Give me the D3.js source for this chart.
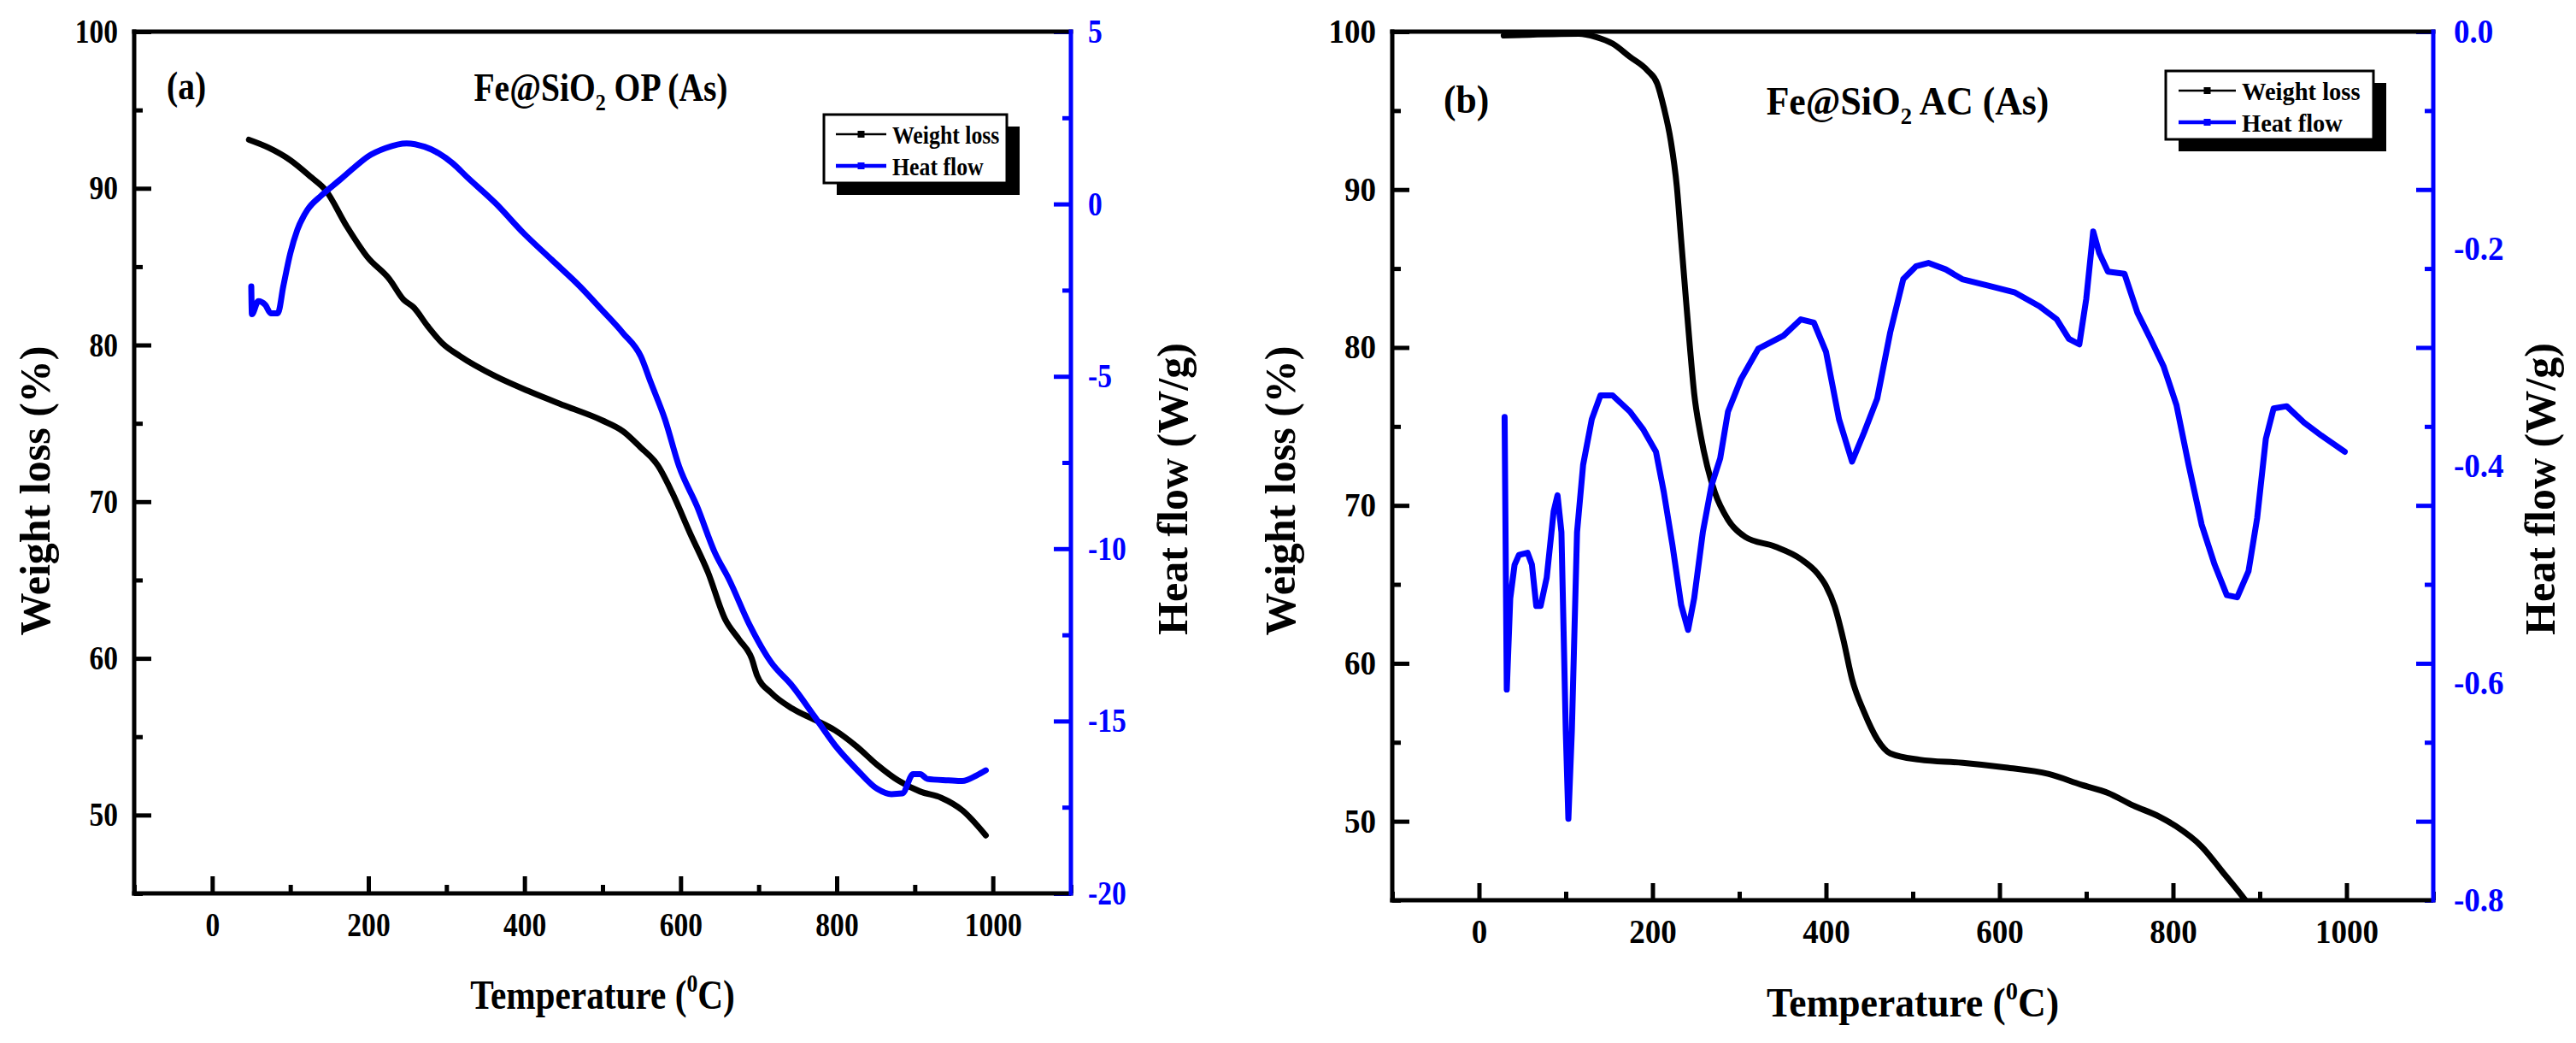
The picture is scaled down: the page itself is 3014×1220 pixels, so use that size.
<!DOCTYPE html>
<html>
<head>
  <meta charset="UTF-8">
  <title>Fe@SiO2 - TGA / heat flow</title>
  <script src="https://cdn.jsdelivr.net/npm/d3@7"></script>
  <style>
    body { margin: 0; background: #fff; }
    svg text { font-family: "Liberation Serif", "Times New Roman", serif; font-weight: bold; }
  </style>
</head>
<body>
<script>
  // ---- values ----
  // panel (a) Fe@SiO2 OP (As)
  var tempWeightA = [47, 72, 100, 127, 145, 172, 199, 227, 245, 258, 276, 295, 317, 363, 408,
                     453, 499, 526, 548, 571, 589, 612, 635, 657, 675, 691, 698, 716, 743, 771,
                     798, 825, 852, 879, 907, 934, 961, 991];
  var weightA = [93.1, 92.6, 91.8, 90.7, 89.9, 87.6, 85.6, 84.2, 82.9, 82.4, 81.2, 80.1, 79.3, 78.0, 77.0,
                 76.1, 75.2, 74.5, 73.5, 72.3, 70.6, 68.0, 65.5, 62.5, 61.2, 60.0, 58.9, 57.8, 56.8, 56.1,
                 55.4, 54.4, 53.2, 52.2, 51.5, 51.1, 50.3, 48.7];
  var tempHeatA = [50, 50.8, 59, 68, 75, 84, 91, 100, 109, 122, 140, 163, 181, 199, 222,
                   249, 272, 290, 308, 326, 363, 399, 435, 471, 499, 526, 549, 562, 580, 598,
                   621, 644, 662, 689, 716, 743, 771, 798, 825, 852, 870, 884, 898, 907, 916,
                   943, 961, 979, 991];
  var heatA = [-2.39, -3.2, -2.82, -2.93, -3.17, -3.17, -2.39, -1.43, -0.75, -0.17, 0.25, 0.69, 1.04, 1.37, 1.62,
               1.76, 1.66, 1.47, 1.18, 0.79, 0.02, -0.85, -1.62, -2.39, -3.07, -3.74, -4.42, -5.19, -6.25, -7.61,
               -8.77, -10.12, -10.89, -12.24, -13.3, -13.98, -14.85, -15.71, -16.39, -16.97, -17.12, -17.1, -16.54, -16.54, -16.68,
               -16.72, -16.74, -16.58, -16.43];

  // panel (b) Fe@SiO2 AC (As)
  var tempWeightB = [28.5, 115, 135, 154, 174, 194, 205.5, 213, 221, 228, 233, 238, 243, 248, 255,
                     263, 272, 287, 307, 341, 371, 390, 400, 410, 420, 430, 444, 459, 474, 508,
                     557.5, 607, 656, 695, 725, 754, 784, 803, 833, 857, 882, 890];
  var weightB = [99.75, 99.87, 99.66, 99.24, 98.4, 97.55, 96.7, 95.2, 93.1, 90.2, 86.8, 83.4, 80.1, 77.1, 74.6,
                 72.5, 70.8, 69.1, 68.0, 67.4, 66.6, 65.7, 64.9, 63.6, 61.5, 59.0, 56.9, 55.2, 54.3, 53.9,
                 53.7, 53.4, 53.0, 52.3, 51.8, 51.0, 50.3, 49.7, 48.4, 46.8, 45.1, 44.5];
  var tempHeatB = [29.5, 32, 36, 41, 46, 56, 61, 66, 71, 78, 86, 90.5, 95, 100, 103,
                   107, 113, 120, 130, 140, 154, 174, 189, 204, 213, 223, 233, 241, 248, 258,
                   268, 278, 287, 302, 322, 351, 371, 386, 400, 415, 430, 444, 459, 474, 489,
                   504, 518, 538, 557, 587, 617, 646, 666, 680, 692, 700, 708, 715, 725, 744,
                   759, 774, 789, 804, 818, 833, 848, 862, 874, 887, 897, 907, 916, 931, 951,
                   971, 998];
  var heatB = [-0.355, -0.606, -0.522, -0.491, -0.482, -0.480, -0.491, -0.529, -0.529, -0.503, -0.442, -0.427, -0.461, -0.644, -0.725,
               -0.644, -0.461, -0.399, -0.357, -0.335, -0.335, -0.350, -0.366, -0.387, -0.424, -0.473, -0.528, -0.551, -0.522, -0.461,
               -0.418, -0.393, -0.350, -0.320, -0.292, -0.280, -0.265, -0.268, -0.295, -0.357, -0.396, -0.369, -0.338, -0.277, -0.228,
               -0.216, -0.213, -0.219, -0.228, -0.234, -0.240, -0.253, -0.265, -0.283, -0.288, -0.246, -0.184, -0.204, -0.221, -0.223,
               -0.259, -0.283, -0.308, -0.344, -0.399, -0.454, -0.491, -0.519, -0.521, -0.497, -0.448, -0.375, -0.347, -0.345, -0.360,
               -0.372, -0.387];

  // ticks
  var xTicks = [0, 200, 400, 600, 800, 1000];
  var xMinorTicks = [-100, 100, 300, 500, 700, 900, 1100];
  var weightTicks = [50, 60, 70, 80, 90, 100];
  var weightMinorTicks = [45, 55, 65, 75, 85, 95];
  var heatTicksA = [-20, -15, -10, -5, 0, 5];
  var heatMinorTicksA = [-17.5, -12.5, -7.5, -2.5, 2.5];
  var heatTicksB = [0, -0.2, -0.4, -0.6, -0.8];

  var BLUE = '#0000ff';

  var svg = d3.select('body').append('svg')
      .attr('width', 3014)
      .attr('height', 1220);
  svg.append('rect').attr('width', 3014).attr('height', 1220).attr('fill', '#fff');

  function addText(x, y, sx, size, anchor, rotate) {
    return svg.append('text')
        .attr('transform', 'translate(' + x + ',' + y + ')' + (rotate ? ' rotate(-90)' : '') +
              ' scale(' + sx + ',1)')
        .attr('text-anchor', anchor)
        .attr('font-size', size);
  }

  function plain(d) { return String(d); }

  function tidy(g, color, sx, textX) {
    g.select('.domain').remove();
    g.attr('font-size', 39).attr('color', color);
    g.selectAll('.tick line').attr('stroke-width', 5);
    g.selectAll('.tick text').attr('transform', 'scale(' + sx + ',1)');
    if (textX !== undefined) g.selectAll('.tick text').attr('x', textX);
  }

  function drawPanel(p) {
    var x = d3.scaleLinear().domain([-100, 1100]).range([p.left, p.right]);
    var yL = d3.scaleLinear().domain([45, 100]).range([p.bottom, p.top]);
    var yR = d3.scaleLinear().domain(p.heatDomain).range([p.bottom, p.top]);

    svg.append('clipPath').attr('id', 'clip' + p.name)
      .append('rect')
        .attr('x', p.left).attr('y', p.top)
        .attr('width', p.right - p.left).attr('height', p.bottom - p.top);

    // curves: weight loss first, heat flow on top
    var weightLine = d3.line().curve(d3.curveMonotoneX)
        .x(function (d) { return x(d[0]); }).y(function (d) { return yL(d[1]); });
    var heatLine = d3.line().curve(p.heatCurve)
        .x(function (d) { return x(d[0]); }).y(function (d) { return yR(d[1]); });
    svg.append('path')
        .datum(d3.zip(p.tempWeight, p.weight))
        .attr('clip-path', 'url(#clip' + p.name + ')')
        .attr('d', weightLine)
        .attr('fill', 'none').attr('stroke', '#000')
        .attr('stroke-width', 7).attr('stroke-linejoin', 'round').attr('stroke-linecap', 'round');
    svg.append('path')
        .datum(d3.zip(p.tempHeat, p.heat))
        .attr('clip-path', 'url(#clip' + p.name + ')')
        .attr('d', heatLine)
        .attr('fill', 'none').attr('stroke', BLUE)
        .attr('stroke-width', 7).attr('stroke-linejoin', 'round').attr('stroke-linecap', 'round');

    // bottom axis (ticks inward)
    svg.append('g').attr('transform', 'translate(0,' + p.bottom + ')')
        .call(d3.axisBottom(x).tickValues(xMinorTicks).tickSize(-10).tickFormat(''))
        .call(function (g) { tidy(g, '#000', p.sx); });
    svg.append('g').attr('transform', 'translate(0,' + p.bottom + ')')
        .call(d3.axisBottom(x).tickValues(xTicks).tickSize(-20).tickPadding(22).tickFormat(plain))
        .call(function (g) { tidy(g, '#000', p.sx); });

    // left axis
    svg.append('g').attr('transform', 'translate(' + p.left + ',0)')
        .call(d3.axisLeft(yL).tickValues(weightMinorTicks).tickSize(-10).tickFormat(''))
        .call(function (g) { tidy(g, '#000', p.sx); });
    svg.append('g').attr('transform', 'translate(' + p.left + ',0)')
        .call(d3.axisLeft(yL).tickValues(weightTicks).tickSize(-20).tickPadding(19).tickFormat(plain))
        .call(function (g) { tidy(g, '#000', p.sx, -19 / p.sx); });

    // right axis
    if (p.name === 'a') {
      svg.append('g').attr('transform', 'translate(' + p.right + ',0)')
          .call(d3.axisRight(yR).tickValues(heatMinorTicksA).tickSize(-10).tickFormat(''))
          .call(function (g) { tidy(g, BLUE, p.sx); });
      svg.append('g').attr('transform', 'translate(' + p.right + ',0)')
          .call(d3.axisRight(yR).tickValues(heatTicksA).tickSize(-20).tickPadding(20).tickFormat(plain))
          .call(function (g) { tidy(g, BLUE, p.sx, 20 / p.sx); });
    } else {
      // in (b) the blue ticks sit at the weight-axis positions, the labels do not
      svg.append('g').attr('transform', 'translate(' + p.right + ',0)')
          .call(d3.axisRight(yL).tickValues(weightMinorTicks).tickSize(-10).tickFormat(''))
          .call(function (g) { tidy(g, BLUE, p.sx); });
      svg.append('g').attr('transform', 'translate(' + p.right + ',0)')
          .call(d3.axisRight(yL).tickValues(weightTicks).tickSize(-20).tickFormat(''))
          .call(function (g) { tidy(g, BLUE, p.sx); });
      svg.append('g').attr('transform', 'translate(' + p.right + ',0)')
          .call(d3.axisRight(yR).tickValues(heatTicksB).tickSize(0).tickPadding(24)
                .tickFormat(function (d) { return d.toFixed(1); }))
          .call(function (g) { tidy(g, BLUE, p.sx, 24 / p.sx); });
    }

    // frame
    var frame = [
      [p.left, p.top, p.right, p.top, '#000'],
      [p.left, p.top, p.left, p.bottom, '#000'],
      [p.left, p.bottom, p.right, p.bottom, '#000'],
      [p.right, p.top, p.right, p.bottom, BLUE]
    ];
    frame.forEach(function (f) {
      svg.append('line')
          .attr('x1', f[0]).attr('y1', f[1]).attr('x2', f[2]).attr('y2', f[3])
          .attr('stroke', f[4]).attr('stroke-width', 5).attr('stroke-linecap', 'square');
    });

    // axis titles
    var t = addText((p.left + p.right) / 2, p.xTitleY, p.sx, 48, 'middle');
    t.append('tspan').text('Temperature (');
    t.append('tspan').attr('font-size', 30).attr('dy', -20).text('0');
    t.append('tspan').attr('dy', 20).text('C)');

    addText(p.yTitleX, 574, 1, 50, 'middle', true).text('Weight loss (%)');
    addText(p.rTitleX, 572, 1, 50, 'middle', true).text('Heat flow (W/g)');

    // panel label and sample name
    addText(p.tagX, p.tagY, p.sx, 46, 'start').text(p.tag);
    var s = addText(p.nameX, p.tagY + 2, p.sx, 46, 'middle');
    s.append('tspan').text('Fe@SiO');
    s.append('tspan').attr('font-size', 28).attr('dy', 11).text('2');
    s.append('tspan').attr('dy', -11).text(' ' + p.sample);

    // legend
    var L = p.legend;
    svg.append('rect').attr('x', L.x + 15).attr('y', L.y + 14)
        .attr('width', L.w).attr('height', 80).attr('fill', '#000');
    svg.append('rect').attr('x', L.x).attr('y', L.y)
        .attr('width', L.w).attr('height', 80)
        .attr('fill', '#fff').attr('stroke', '#000').attr('stroke-width', 3);
    [['Weight loss', '#000', 2.5, 23], ['Heat flow', BLUE, 4.5, 60]].forEach(function (r) {
      var cy = L.y + r[3];
      svg.append('line')
          .attr('x1', L.x + L.lineX).attr('x2', L.x + L.lineX + L.lineLen)
          .attr('y1', cy).attr('y2', cy)
          .attr('stroke', r[1]).attr('stroke-width', r[2]);
      svg.append('rect')
          .attr('x', L.x + L.lineX + L.lineLen / 2 - 4).attr('y', cy - 4)
          .attr('width', 8).attr('height', 8).attr('fill', r[1]);
      addText(L.x + L.textX, cy, p.sx, 30, 'start').attr('dy', '0.35em').text(r[0]);
    });
  }

  drawPanel({
    name: 'a', left: 157, right: 1253, top: 37, bottom: 1045, sx: 0.86,
    heatDomain: [-20, 5], heatCurve: d3.curveMonotoneX,
    tempWeight: tempWeightA, weight: weightA, tempHeat: tempHeatA, heat: heatA,
    xTitleY: 1180, yTitleX: 58, rTitleX: 1389,
    tag: '(a)', tagX: 195, tagY: 116, nameX: 703, sample: 'OP (As)',
    legend: { x: 964, y: 134, w: 214, lineX: 14, lineLen: 59, textX: 80 }
  });

  drawPanel({
    name: 'b', left: 1629, right: 2847, top: 37, bottom: 1053, sx: 0.95,
    heatDomain: [-0.8, 0], heatCurve: d3.curveLinear,
    tempWeight: tempWeightB, weight: weightB, tempHeat: tempHeatB, heat: heatB,
    xTitleY: 1189, yTitleX: 1515, rTitleX: 2989,
    tag: '(b)', tagX: 1689, tagY: 132, nameX: 2232, sample: 'AC (As)',
    legend: { x: 2534, y: 83, w: 243, lineX: 15, lineLen: 67, textX: 89 }
  });
</script>
</body>
</html>
